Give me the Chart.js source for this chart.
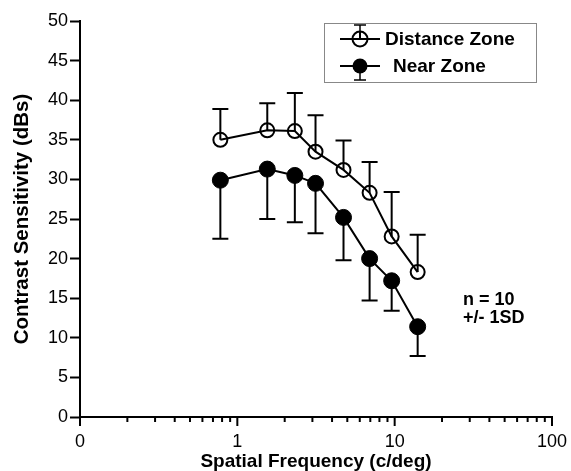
<!DOCTYPE html>
<html>
<head>
<meta charset="utf-8">
<script src="https://cdn.jsdelivr.net/npm/chart.js@4.4.1/dist/chart.umd.min.js"></script>
<style>
  html, body { margin: 0; padding: 0; background: #fff; }
  #wrap { width: 571px; height: 471px; }
</style>
</head>
<body>
<div id="wrap"><canvas id="chart" width="571" height="471"></canvas></div>
<script>
// spatial frequencies (c/deg)
const freq = [0.78, 1.55, 2.32, 3.14, 4.73, 6.93, 9.57, 14.0];
// distance zone: mean and +1SD
const distanceMean = [35.0, 36.2, 36.1, 33.5, 31.2, 28.3, 22.8, 18.3];
const distanceSD = [3.9, 3.4, 4.8, 4.6, 3.7, 3.9, 5.6, 4.7];
// near zone: mean and -1SD
const nearMean = [29.9, 31.3, 30.5, 29.5, 25.2, 20.0, 17.2, 11.4];
const nearSD = [7.4, 6.3, 5.9, 6.3, 5.4, 5.3, 3.8, 3.7];

const xTicks = [0.1, 0.2, 0.3, 0.4, 0.5, 0.6, 0.7, 0.8, 0.9,
                1, 2, 3, 4, 5, 6, 7, 8, 9,
                10, 20, 30, 40, 50, 60, 70, 80, 90, 100];
const xMajor = {0.1: "0", 1: "1", 10: "10", 100: "100"};
const legendLabels = ["Distance Zone", "Near Zone"];
const noteLines = ["n = 10", "+/- 1SD"];

const ctx = document.getElementById("chart");

function pts(ys) {
    return freq.map((f, i) => ({x: f, y: ys[i]}));
}

function bar(c, x, y0, y1, half) {
    c.beginPath();
    c.moveTo(x, y0);
    c.lineTo(x, y1);
    c.moveTo(x - half, y1);
    c.lineTo(x + half, y1);
    c.stroke();
}

// one-sided error bars: distance up, near down
const errorBars = {
    id: "errorBars",
    beforeDatasetsDraw(chart) {
        const c = chart.ctx;
        const xs = chart.scales.x, ys = chart.scales.y;
        const sets = [[distanceMean, distanceSD, 1], [nearMean, nearSD, -1]];
        c.save();
        c.strokeStyle = "#000";
        c.lineWidth = 2;
        sets.forEach(([m, sd, dir]) => {
            m.forEach((v, i) => {
                bar(c, xs.getPixelForValue(freq[i]), ys.getPixelForValue(v),
                    ys.getPixelForValue(v + dir * sd[i]), 8);
            });
        });
        c.restore();
    }
};

// x tick marks (major longer), legend box and note
const extras = {
    id: "extras",
    afterDraw(chart) {
        const c = chart.ctx;
        const xs = chart.scales.x;
        const bottom = chart.chartArea.bottom;
        c.save();
        c.strokeStyle = "#000";
        c.lineWidth = 2;
        xTicks.forEach(v => {
            const px = xs.getPixelForValue(v);
            const len = xMajor[v] !== undefined ? 9 : 5;
            c.beginPath();
            c.moveTo(px, bottom);
            c.lineTo(px, bottom + len);
            c.stroke();
        });

        // legend
        c.lineWidth = 1;
        c.strokeStyle = "#888";
        c.strokeRect(324.5, 23.5, 212, 59);
        c.font = "bold 19px 'Liberation Sans', Arial, sans-serif";
        c.textBaseline = "middle";
        c.fillStyle = "#000";
        const rows = [39, 66];
        legendLabels.forEach((lab, i) => {
            const y = rows[i];
            c.strokeStyle = "#000";
            c.lineWidth = 2;
            c.beginPath();
            c.moveTo(340, y);
            c.lineTo(380, y);
            c.stroke();
            c.lineWidth = 1.5;
            bar(c, 360, y, i === 0 ? y - 14 : y + 14, 6);
            c.lineWidth = 2;
            c.beginPath();
            c.arc(360, y, 7.5, 0, Math.PI * 2);
            if (i === 0) {
                c.fillStyle = "#fff";
                c.fill();
                c.stroke();
                c.beginPath();
                c.moveTo(352, y);
                c.lineTo(368, y);
                c.moveTo(360, y);
                c.lineTo(360, y - 7);
                c.stroke();
                c.fillStyle = "#000";
            } else {
                c.fill();
            }
            c.fillText(lab, i === 0 ? 385 : 393, y + 1);
        });

        // note
        c.font = "bold 18px 'Liberation Sans', Arial, sans-serif";
        c.fillText(noteLines[0], 463, 300);
        c.fillText(noteLines[1], 463, 318);
        c.restore();
    }
};

new Chart(ctx, {
    type: "line",
    data: {
        datasets: [{
            label: legendLabels[0],
            data: pts(distanceMean),
            borderColor: "#000",
            borderWidth: 2,
            pointRadius: 7,
            pointBorderWidth: 2,
            pointBackgroundColor: "rgba(0,0,0,0)",
            pointBorderColor: "#000",
            tension: 0
        }, {
            label: legendLabels[1],
            data: pts(nearMean),
            borderColor: "#000",
            borderWidth: 2,
            pointRadius: 8,
            pointBorderWidth: 1,
            pointBackgroundColor: "#000",
            pointBorderColor: "#000",
            tension: 0
        }]
    },
    options: {
        responsive: false,
        animation: false,
        layout: { padding: { top: 21, right: 19, left: 0, bottom: 0 } },
        plugins: {
            legend: { display: false },
            tooltip: { enabled: false }
        },
        scales: {
            x: {
                type: "logarithmic",
                min: 0.1,
                max: 100,
                afterBuildTicks(scale) {
                    scale.ticks = xTicks.map(v => ({value: v}));
                },
                afterFit(scale) {
                    scale.height = 54;
                    scale.paddingLeft = 0;
                    scale.paddingRight = 0;
                },
                border: { color: "#000", width: 2 },
                grid: { drawOnChartArea: false, drawTicks: false },
                ticks: {
                    autoSkip: false,
                    maxRotation: 0,
                    padding: 14,
                    color: "#000",
                    font: { family: "'Liberation Sans', Arial, sans-serif", size: 18 },
                    callback: v => xMajor[v] !== undefined ? xMajor[v] : ""
                },
                title: {
                    display: true,
                    text: "Spatial Frequency (c/deg)",
                    color: "#000",
                    padding: { top: 4, bottom: 0 },
                    font: { family: "'Liberation Sans', Arial, sans-serif", size: 19, weight: "bold", lineHeight: 1 }
                }
            },
            y: {
                min: 0,
                max: 50,
                afterFit(scale) { scale.width = 80; },
                border: { color: "#000", width: 2 },
                grid: { drawOnChartArea: false, tickLength: 10, tickWidth: 2, tickColor: "#000" },
                ticks: {
                    stepSize: 5,
                    padding: 2,
                    color: "#000",
                    font: { family: "'Liberation Sans', Arial, sans-serif", size: 18 }
                },
                title: {
                    display: true,
                    text: "Contrast Sensitivity (dBs)",
                    color: "#000",
                    padding: { top: 10, bottom: 0 },
                    font: { family: "'Liberation Sans', Arial, sans-serif", size: 20.5, weight: "bold" }
                }
            }
        }
    },
    plugins: [errorBars, extras]
});
</script>
</body>
</html>
